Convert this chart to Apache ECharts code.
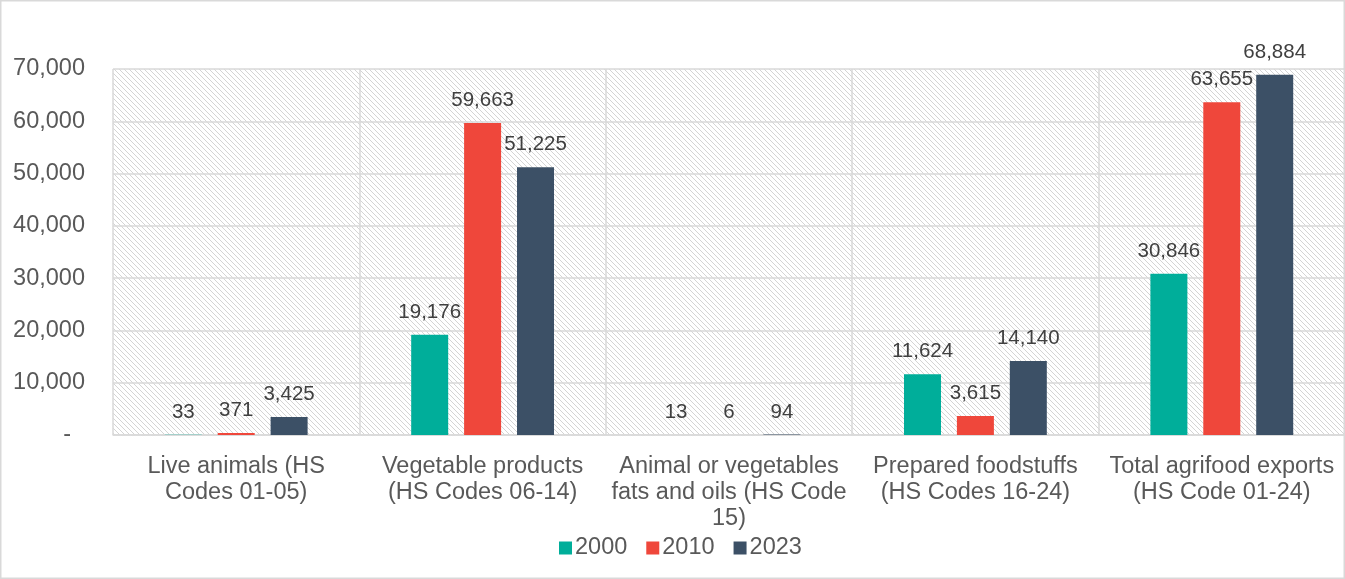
<!DOCTYPE html>
<html>
<head>
<meta charset="utf-8">
<script src="https://cdn.jsdelivr.net/npm/echarts@6/dist/echarts.min.js"></script>
<style>
  html, body { margin: 0; padding: 0; background: #fff; }
  #chart { width: 1345px; height: 579px; }
</style>
</head>
<body>
<div id="chart"></div>
<script>
const categories = [
  'Live animals (HS\nCodes 01-05)',
  'Vegetable products\n(HS Codes 06-14)',
  'Animal or vegetables\nfats and oils (HS Code\n15)',
  'Prepared foodstuffs\n(HS Codes 16-24)',
  'Total agrifood exports\n(HS Code 01-24)'
];
const seriesNames = ['2000', '2010', '2023'];
const values2000 = [33, 19176, 13, 11624, 30846];
const values2010 = [371, 59663, 6, 3615, 63655];
const values2023 = [3425, 51225, 94, 14140, 68884];
const colors = ['#00ae9a', '#ef473b', '#3c5066'];

// hatch pattern for plot background
const pc = document.createElement('canvas');
pc.width = 5; pc.height = 5;
const pctx = pc.getContext('2d');
pctx.fillStyle = '#ffffff';
pctx.fillRect(0, 0, 5, 5);
pctx.fillStyle = '#d4d4d4';
for (let i = 0; i < 5; i++) pctx.fillRect(i, i, 1, 1);

const FONT = 'Liberation Sans, Arial, sans-serif';
const chart = echarts.init(document.getElementById('chart'), null, { renderer: 'canvas' });
const fmt = v => Number(v).toLocaleString('en-US');

const makeSeries = (name, data, color) => ({
  name: name,
  type: 'bar',
  data: data,
  barWidth: 37,
  barGap: '43%',
  itemStyle: { color: color },
  label: {
    show: true,
    position: 'top',
    distance: 12,
    color: '#404040',
    fontSize: 20.5,
    fontFamily: FONT,
    formatter: p => fmt(p.value)
  }
});

chart.setOption({
  animation: false,
  textStyle: { fontFamily: FONT },
  graphic: [{
    type: 'rect',
    shape: { x: 0.75, y: 0.75, width: 1343.5, height: 577.5 },
    style: { fill: 'none', stroke: '#d9d9d9', lineWidth: 1.5 },
    silent: true
  }],
  grid: {
    left: 113, top: 69, width: 1235, height: 366,
    show: true,
    borderWidth: 0,
    backgroundColor: { image: pc, repeat: 'repeat' }
  },
  legend: {
    data: seriesNames,
    left: 554,
    top: 531,
    itemWidth: 13,
    itemHeight: 13,
    itemGap: 19,
    icon: 'rect',
    textStyle: { color: '#595959', fontSize: 23.5, fontFamily: FONT, lineHeight: 24, padding: [0, 0, 0, -2] }
  },
  xAxis: {
    type: 'category',
    data: categories,
    axisTick: { show: false },
    axisLine: { lineStyle: { color: '#d9d9d9', width: 1.5 } },
    splitLine: { show: true, lineStyle: { color: '#d9d9d9', width: 1.5 } },
    axisLabel: {
      interval: 0,
      margin: 19,
      color: '#595959',
      fontSize: 23.5,
      lineHeight: 26,
      fontFamily: FONT
    }
  },
  yAxis: {
    type: 'value',
    min: 0,
    max: 70000,
    interval: 10000,
    axisLine: { show: false },
    axisTick: { show: false },
    splitLine: { lineStyle: { color: '#d9d9d9', width: 1.5 } },
    axisLabel: {
      margin: 28,
      color: '#595959',
      fontSize: 23.5,
      fontFamily: FONT,
      formatter: v => v === 0 ? '{d|-}' : fmt(v),
      rich: { d: { padding: [0, 14, 0, 0], fontSize: 23.5, color: '#595959', fontFamily: FONT } }
    }
  },
  series: [
    makeSeries(seriesNames[0], values2000, colors[0]),
    makeSeries(seriesNames[1], values2010, colors[1]),
    makeSeries(seriesNames[2], values2023, colors[2])
  ]
});
</script>
</body>
</html>
